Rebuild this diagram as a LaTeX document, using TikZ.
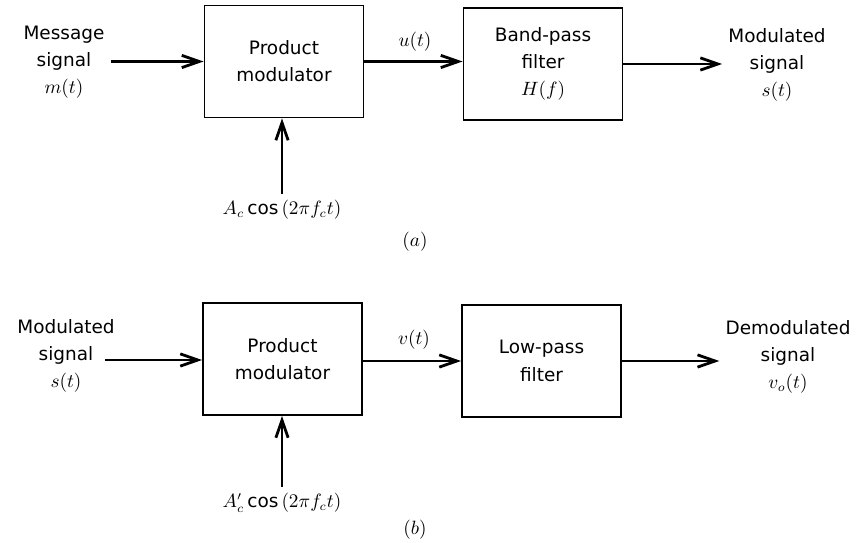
\documentclass[tikz,border=0pt]{standalone}
\usepackage{amsmath}
\usepackage[no-math]{fontspec}
\setmainfont{DejaVu Sans}
\usetikzlibrary{positioning, arrows.meta}

\begin{document}
\begin{tikzpicture}[x=0.02cm, y=-0.02cm,
    block/.style={draw, line width=1.1pt, minimum width=3.18cm,
                  minimum height=2.24cm, align=center, inner sep=0pt,
                  font=\fontsize{10.5}{15.5}\selectfont},
    sig/.style={line width=1.6pt,
                -{Straight Barb[length=10pt, width=7pt]}},
    txt/.style={align=center, font=\fontsize{10.5}{15.5}\selectfont}]
  \useasboundingbox (0,0) rectangle (857,543);
  % (a) Modulator
  \node[block] (prodA) at (284,61.5) {Product\\modulator};
  \node[block] (bpf) at (543,64) {Band-pass\\filter\\$H(f)$};
  \node[txt] (msgA) at (64,62) {Message\\signal\\$m(t)$};
  \node[txt] (outA) at (777,65) {Modulated\\signal\\$s(t)$};
  \node[txt] (carA) at (282,210) {$A_c$\,cos\,$(2\pi f_c t)$};
  \node[txt] (uLab) at (415,42) {$u(t)$};
  \node[txt] (capA) at (415,242) {$(a)$};
  \draw[sig] (msgA.east |- prodA.west) -- (prodA.west);
  \draw[sig] (prodA.east) -- (prodA.east -| bpf.west);
  \draw[sig] (bpf.east) -- (bpf.east -| outA.west);
  \draw[sig] (carA.north) -- (carA.north |- prodA.south);
  % (b) Demodulator
  \node[block] (prodB) at (282.5,359) {Product\\modulator};
  \node[block] (lpf) at (541.5,361) {Low-pass\\filter};
  \node[txt] (msgB) at (66,356) {Modulated\\signal\\$s(t)$};
  \node[txt] (outB) at (788,357) {Demodulated\\signal\\$v_o(t)$};
  \node[txt] (carB) at (282,503) {$A'_c$\,cos\,$(2\pi f_c t)$};
  \node[txt] (vLab) at (414,340) {$v(t)$};
  \node[txt] (capB) at (415,530) {$(b)$};
  \coordinate (inB) at (105,360);
  \draw[sig] (inB) -- (inB -| prodB.west);
  \draw[sig] (lpf.west -| prodB.east) -- (lpf.west);
  \draw[sig] (lpf.east) -- (lpf.east -| outB.west);
  \draw[sig] (carB.north) -- (carB.north |- prodB.south);
\end{tikzpicture}
\end{document}
